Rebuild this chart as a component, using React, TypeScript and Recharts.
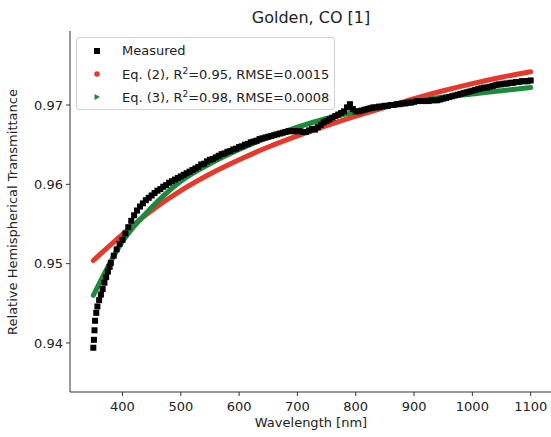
import React from "react";
import { ComposedChart, XAxis, YAxis, Scatter, Line, Legend } from "recharts";

// measured transmittance (nm, value)
const measuredWavelengths = [
  350, 351, 352, 353, 355, 357, 360, 363, 366, 369, 372, 375, 378, 380, 385,
  390, 395, 400, 405, 410, 415, 420, 425, 430, 435, 440, 445, 450, 455, 460,
  465, 470, 475, 480, 485, 490, 495, 500, 505, 510, 515, 520, 525, 530, 535,
  540, 545, 550, 555, 560, 565, 570, 575, 580, 585, 590, 595, 600, 605, 610,
  615, 620, 625, 630, 635, 640, 645, 650, 655, 660, 665, 670, 675, 680, 685,
  690, 695, 700, 705, 710, 715, 720, 725, 730, 735, 740, 745, 750, 755, 760,
  765, 770, 775, 780, 785, 790, 795, 800, 805, 810, 815, 820, 825, 830, 835,
  840, 845, 850, 855, 860, 865, 870, 875, 880, 885, 890, 895, 900, 905, 910,
  915, 920, 925, 930, 935, 940, 945, 950, 955, 960, 965, 970, 975, 980, 985,
  990, 995, 1000, 1005, 1010, 1015, 1020, 1025, 1030, 1035, 1040, 1045, 1050,
  1055, 1060, 1065, 1070, 1075, 1080, 1085, 1090, 1095, 1100,
];
const measuredValues = [
  0.9394, 0.9404, 0.9416, 0.9428, 0.9438, 0.9446, 0.9454, 0.9461, 0.9468,
  0.9476, 0.9483, 0.949, 0.9496, 0.9501, 0.951, 0.9518, 0.9525, 0.953, 0.9538,
  0.9546, 0.9554, 0.9561, 0.9567, 0.9572, 0.9576, 0.958, 0.9583, 0.9586,
  0.9589, 0.9592, 0.9594, 0.9597, 0.9599, 0.9602, 0.9604, 0.9606, 0.9608,
  0.961, 0.9612, 0.9614, 0.9616, 0.9618, 0.962, 0.9622, 0.9625, 0.9626, 0.9629,
  0.9631, 0.9632, 0.9634, 0.9636, 0.9638, 0.9639, 0.9641, 0.9642, 0.9644,
  0.9645, 0.9647, 0.9648, 0.965, 0.9651, 0.9653, 0.9654, 0.9655, 0.9657,
  0.9658, 0.9659, 0.966, 0.9661, 0.9662, 0.9663, 0.9664, 0.9665, 0.9666,
  0.9667, 0.9667, 0.9667, 0.9667, 0.9667, 0.9666, 0.9666, 0.9668, 0.967,
  0.9669, 0.9672, 0.9675, 0.9678, 0.968, 0.9682, 0.9684, 0.9686, 0.9688, 0.969,
  0.9692, 0.9697, 0.9701, 0.9695, 0.9692, 0.9692, 0.9693, 0.9694, 0.9695,
  0.9696, 0.9697, 0.9697, 0.9698, 0.9698, 0.9699, 0.9699, 0.97, 0.97, 0.9701,
  0.9701, 0.9702, 0.9702, 0.9703, 0.9703, 0.9704, 0.9705, 0.9705, 0.9705,
  0.9705, 0.9705, 0.9706, 0.9706, 0.9706, 0.9707, 0.9708, 0.9709, 0.971,
  0.9711, 0.9712, 0.9713, 0.9714, 0.9715, 0.9716, 0.9717, 0.9718, 0.9719,
  0.972, 0.9721, 0.9722, 0.9722, 0.9723, 0.9724, 0.9725, 0.9726, 0.9726,
  0.9727, 0.9727, 0.9728, 0.9728, 0.9729, 0.9729, 0.973, 0.973, 0.973, 0.9731,
];

// fitted curves
const fitWavelengths = [
  350, 400, 450, 500, 550, 600, 650, 700, 750, 800, 850, 900, 950, 1000, 1050,
  1100,
];
const eq2Values = [
  0.9504, 0.9537, 0.9567, 0.9592, 0.9613, 0.9631, 0.9647, 0.9661, 0.9674,
  0.9686, 0.9697, 0.9708, 0.9718, 0.9727, 0.9735, 0.9742,
];
const eq3Values = [
  0.946, 0.9528, 0.9571, 0.9604, 0.9626, 0.9644, 0.9659, 0.9672, 0.9683,
  0.9691, 0.9698, 0.9704, 0.971, 0.9714, 0.9718, 0.9722,
];

const xTicks = [400, 500, 600, 700, 800, 900, 1000, 1100];
const yTicks = [0.94, 0.95, 0.96, 0.97];

const measured = measuredWavelengths.map((x, i) => ({ x, y: measuredValues[i] }));
const eq2 = fitWavelengths.map((x, i) => ({ x, y: eq2Values[i] }));
const eq3 = fitWavelengths.map((x, i) => ({ x, y: eq3Values[i] }));

const RED = "#e8382c";
const GREEN = "#1c8a3c";
const FONT = "'DejaVu Sans', sans-serif";
const X_DOMAIN = [310, 1140];
const Y_DOMAIN = [0.93382, 0.97933];

const Square = (props: any) => (
  <rect x={props.cx - 3} y={props.cy - 3} width={6} height={6} fill="#000" />
);

const legendRows = [
  { marker: "square", pre: "Measured" },
  { marker: "circle", pre: "Eq. (2), R", sup: "2", post: "=0.95, RMSE=0.0015" },
  { marker: "triangle", pre: "Eq. (3), R", sup: "2", post: "=0.98, RMSE=0.0008" },
];

const LegendBox = () => (
  <div
    style={{
      border: "1px solid #d0d0d0",
      borderRadius: 3,
      background: "rgba(255,255,255,0.85)",
      padding: "1px 5px 1px 0",
      fontFamily: FONT,
      fontSize: 13,
      color: "#222",
    }}
  >
    {legendRows.map((r) => (
      <div key={r.pre} style={{ height: 23, display: "flex", alignItems: "center" }}>
        <svg width={45} height={23}>
          {r.marker === "square" && <rect x={17} y={9} width={6} height={6} fill="#000" />}
          {r.marker === "circle" && <circle cx={20} cy={12} r={2.8} fill={RED} />}
          {r.marker === "triangle" && <polygon points="17.5,9 23,12 17.5,15" fill={GREEN} />}
        </svg>
        <span style={{ whiteSpace: "nowrap" }}>
          {r.pre}
          {r.sup && <sup style={{ fontSize: 9, verticalAlign: 5 }}>{r.sup}</sup>}
          {r.post}
        </span>
      </div>
    ))}
  </div>
);

export default function App() {
  return (
    <div
      style={{
        position: "absolute",
        left: 0,
        top: 0,
        width: 551,
        height: 437,
        overflow: "hidden",
        background: "#fff",
        fontFamily: FONT,
      }}
    >
      <div
        style={{
          position: "absolute",
          left: 0,
          width: 622,
          top: 8,
          textAlign: "center",
          fontSize: 16,
          color: "#222",
        }}
      >
        Golden, CO [1]
      </div>
      <ComposedChart width={554} height={437} margin={{ top: 31, right: 0, bottom: 0, left: 0 }}>
        <XAxis
          dataKey="x"
          type="number"
          domain={X_DOMAIN}
          ticks={xTicks}
          allowDataOverflow
          height={45}
          tickSize={4}
          tickMargin={6}
          stroke="#333"
          tick={{ fontSize: 13, fill: "#222", fontFamily: FONT }}
          label={{
            content: () => (
              <text x={311} y={427} textAnchor="middle" fontSize={13} fill="#222" fontFamily={FONT}>
                Wavelength [nm]
              </text>
            ),
          }}
        />
        <XAxis
          xAxisId="top"
          orientation="top"
          type="number"
          domain={X_DOMAIN}
          height={0}
          tick={false}
          tickLine={false}
          stroke="#333"
        />
        <YAxis
          dataKey="y"
          type="number"
          domain={Y_DOMAIN}
          ticks={yTicks}
          allowDataOverflow
          width={70}
          tickSize={4}
          tickMargin={3}
          stroke="#333"
          tickFormatter={(v: number) => v.toFixed(2)}
          tick={{ fontSize: 13, fill: "#222", fontFamily: FONT }}
          label={{
            content: () => (
              <text
                x={17}
                y={212}
                transform="rotate(-90 17 212)"
                textAnchor="middle"
                fontSize={13}
                fill="#222"
                fontFamily={FONT}
              >
                Relative Hemispherical Transmittance
              </text>
            ),
          }}
        />
        <Scatter data={measured} dataKey="y" shape={Square} isAnimationActive={false} />
        <Line
          data={eq2}
          dataKey="y"
          type="monotone"
          stroke={RED}
          strokeWidth={5}
          strokeLinecap="round"
          dot={false}
          activeDot={false}
          isAnimationActive={false}
        />
        <Line
          data={eq3}
          dataKey="y"
          type="monotone"
          stroke={GREEN}
          strokeWidth={5}
          strokeLinecap="round"
          dot={false}
          activeDot={false}
          isAnimationActive={false}
        />
        <Legend
          layout="horizontal"
          verticalAlign="middle"
          align="center"
          wrapperStyle={{ left: 76, top: 37, width: "auto" }}
          content={() => <LegendBox />}
        />
      </ComposedChart>
    </div>
  );
}
